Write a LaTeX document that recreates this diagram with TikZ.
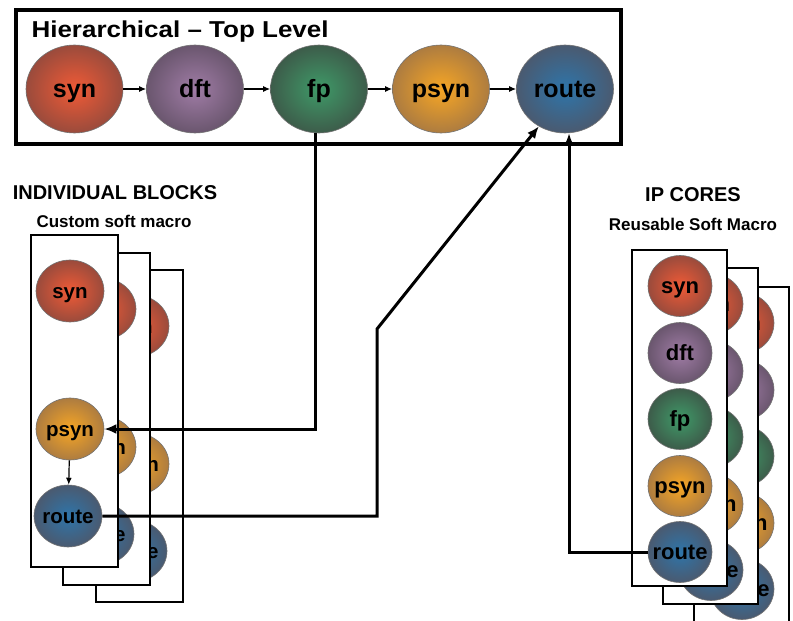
\documentclass[tikz,border=0pt]{standalone}
\usepackage{fontspec}
\setmainfont{Liberation Sans}
\usetikzlibrary{shapes.geometric,arrows.meta}

% stage colours: bright centre, darker rim
\definecolor{synIn}{HTML}{F05A36}  \definecolor{synOut}{HTML}{9A4B3C}
\definecolor{dftIn}{HTML}{A07CA6}  \definecolor{dftOut}{HTML}{6A566E}
\definecolor{fpIn}{HTML}{3F9A68}   \definecolor{fpOut}{HTML}{3D5C4A}
\definecolor{psynIn}{HTML}{F7A624} \definecolor{psynOut}{HTML}{AD7C40}
\definecolor{routeIn}{HTML}{2E75AA}\definecolor{routeOut}{HTML}{4A5A70}

\newcommand\stagetext[1]{\makebox[0pt]{#1}}

\tikzset{
  stage/.style={ellipse, draw=black!55, line width=0.6pt, inner sep=0pt, text=black},
  bigstage/.style={stage, minimum width=97pt, minimum height=88pt,
    font=\fontsize{25}{25}\selectfont\bfseries, text height=17.5pt, text depth=0pt},
  leftstage/.style={stage, minimum width=68pt, minimum height=62pt,
    font=\fontsize{20.5}{20.5}\selectfont\bfseries, text height=14.5pt, text depth=0pt},
  ipstage/.style={stage, minimum width=64pt, minimum height=61pt,
    font=\fontsize{22}{22}\selectfont\bfseries, text height=15.5pt, text depth=0pt},
  syncol/.style={inner color=synIn, outer color=synOut},
  dftcol/.style={inner color=dftIn, outer color=dftOut},
  fpcol/.style={inner color=fpIn, outer color=fpOut},
  psyncol/.style={inner color=psynIn, outer color=psynOut},
  routecol/.style={inner color=routeIn, outer color=routeOut},
  panel/.style={draw=black, line width=2.2pt, fill=white},
  topframe/.style={draw=black, line width=3.8pt},
  flow/.style={-{Latex[length=7pt,width=6pt]}, line width=1.2pt},
  link/.style={-{Latex[length=12pt,width=10pt]}, line width=3pt},
  heading/.style={anchor=base, font=\fontsize{20}{20}\selectfont\bfseries},
  subheading/.style={anchor=base, font=\fontsize{17}{17}\selectfont\bfseries},
}

\begin{document}
\begin{tikzpicture}[x=1pt, y=-1pt]
\useasboundingbox (0,0) rectangle (793,621);
\clip (0,0) rectangle (793,621);

% ---- top-level flow ----
\draw[topframe] (16,10) rectangle (621,144);
\node[anchor=base west, font=\fontsize{23}{23}\selectfont\bfseries] (title) at (28,37)
  {\scalebox{1.13}[1]{Hierarchical – Top Level}};
\node[bigstage, syncol]   (syn)   at (74.5,89) {\stagetext{syn}};
\node[bigstage, dftcol]   (dft)   at (195,89)  {\stagetext{dft}};
\node[bigstage, fpcol]    (fp)    at (319,89)  {\stagetext{fp}};
\node[bigstage, psyncol]  (psyn)  at (441,89)  {\stagetext{psyn}};
\node[bigstage, routecol] (route) at (565,89)  {\stagetext{route}};
\draw[flow] (syn) -- (dft);
\draw[flow] (dft) -- (fp);
\draw[flow] (fp) -- (psyn);
\draw[flow] (psyn) -- (route);

% ---- individual blocks (stacked sheets, back to front) ----
\node[heading] (blkhead) at (115,199) {INDIVIDUAL BLOCKS};
\node[subheading] (blksub) at (114,227) {Custom soft macro};
\foreach \i/\dx/\dy in {2/65/35, 1/32/18, 0/0/0} {
  \begin{scope}[shift={(\dx,\dy)}]
    \draw[panel] (31,235) rectangle (118,567);
    \node[leftstage, syncol]   (synL\i)   at (70,291)  {\stagetext{syn}};
    \node[leftstage, psyncol]  (psynL\i)  at (70,429)  {\stagetext{psyn}};
    \node[leftstage, routecol] (routeL\i) at (68,516)  {\stagetext{route}};
  \end{scope}
}
\draw[flow] (psynL0) -- (routeL0);

% ---- IP cores (stacked sheets, back to front) ----
\node[heading] (iphead) at (693,201) {IP CORES};
\node[subheading] (ipsub) at (693,230) {Reusable Soft Macro};
\foreach \i/\dx/\dy in {2/62/37, 1/31/18, 0/0/0} {
  \begin{scope}[shift={(\dx,\dy)}]
    \draw[panel] (632,250) rectangle (727,586);
    \node[ipstage, syncol]   (synIP\i)   at (680,286) {\stagetext{syn}};
    \node[ipstage, dftcol]   (dftIP\i)   at (680,353) {\stagetext{dft}};
    \node[ipstage, fpcol]    (fpIP\i)    at (680,419) {\stagetext{fp}};
    \node[ipstage, psyncol]  (psynIP\i)  at (680,486) {\stagetext{psyn}};
    \node[ipstage, routecol] (routeIP\i) at (680,552) {\stagetext{route}};
  \end{scope}
}

% ---- links between levels ----
\coordinate (bend) at (377,329);
\draw[link] ([xshift=-4pt]fp.south) |- (psynL0.east);
\draw[link] (routeL0.east) -| (bend) -- (route.235);
\draw[link] (routeIP0.west) -| ([xshift=4pt]route.south);
\end{tikzpicture}
\end{document}
